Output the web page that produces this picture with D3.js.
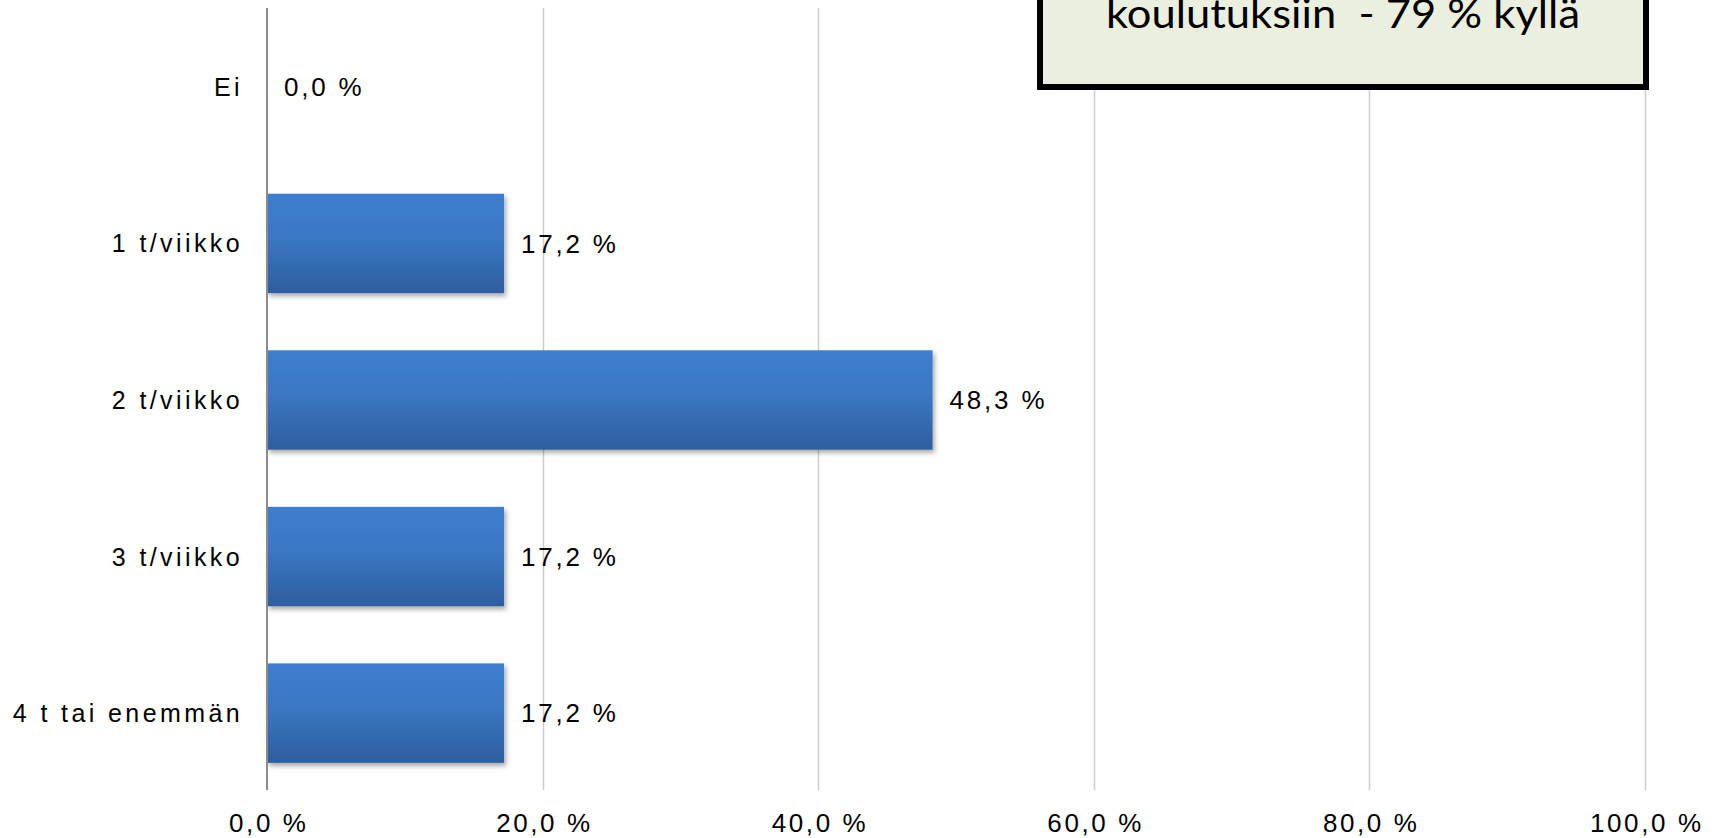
<!DOCTYPE html>
<html>
<head>
<meta charset="utf-8">
<script src="https://cdn.jsdelivr.net/npm/d3@7"></script>
<style>
  html, body { margin: 0; padding: 0; background: #fff; }
  svg { display: block; }
</style>
</head>
<body>
<svg id="chart" width="1721" height="838"></svg>
<script>
const categories = ["Ei", "1 t/viikko", "2 t/viikko", "3 t/viikko", "4 t tai enemmän"];
const values = [0.0, 17.2, 48.3, 17.2, 17.2];
const tickValues = [0, 20, 40, 60, 80, 100];
const titleText = "koulutuksiin  - 79 % kyllä";

const svg = d3.select("#chart");
const m = { left: 267, right: 1645, top: 8, bottom: 790 };

const fi = d3.formatLocale({ decimal: ",", thousands: " ", grouping: [3], currency: ["", " €"] });
const f1 = fi.format(".1f");
const pct = v => f1(v) + " %";

const x = d3.scaleLinear().domain([0, 100]).range([m.left, m.right]);
const y = d3.scaleBand().domain(categories).range([m.top + 1, m.bottom + 1]).paddingInner(0.365).paddingOuter(0.18);

const defs = svg.append("defs");
const grad = defs.append("linearGradient").attr("id", "barGrad").attr("x1", 0).attr("y1", 0).attr("x2", 0).attr("y2", 1);
grad.append("stop").attr("offset", "0%").attr("stop-color", "#3D7ECE");
grad.append("stop").attr("offset", "45%").attr("stop-color", "#3A77C3");
grad.append("stop").attr("offset", "100%").attr("stop-color", "#2D5E9E");
const sh = defs.append("filter").attr("id", "shadow").attr("x", "-5%").attr("y", "-10%").attr("width", "115%").attr("height", "130%");
sh.append("feDropShadow").attr("dx", 2).attr("dy", 3).attr("stdDeviation", 2.5).attr("flood-color", "#000").attr("flood-opacity", 0.35);

// gridlines
svg.append("g").selectAll("line").data(tickValues.filter(d => d > 0)).join("line")
  .attr("x1", d => Math.round(x(d)) + 0.5).attr("x2", d => Math.round(x(d)) + 0.5)
  .attr("y1", m.top).attr("y2", m.bottom)
  .attr("stroke", "#CDCDCD").attr("stroke-width", 1.5);

// bars
svg.append("g").selectAll("rect").data(categories.map((c, i) => ({ c, v: values[i] })).filter(d => d.v > 0)).join("rect")
  .attr("x", x(0))
  .attr("y", d => y(d.c))
  .attr("width", d => x(d.v) - x(0))
  .attr("height", y.bandwidth())
  .attr("fill", "url(#barGrad)")
  .attr("filter", "url(#shadow)");

// value axis line (0)
svg.append("line")
  .attr("x1", x(0)).attr("x2", x(0)).attr("y1", m.top).attr("y2", m.bottom)
  .attr("stroke", "#8C8C8C").attr("stroke-width", 2);

// value labels
svg.append("g").selectAll("text").data(categories.map((c, i) => ({ c, v: values[i] }))).join("text")
  .attr("x", d => x(d.v) + 17)
  .attr("y", d => y(d.c) + y.bandwidth() / 2)
  .attr("dy", "0.36em")
  .attr("font-family", "'Liberation Sans', Arial, sans-serif")
  .attr("font-size", 26)
  .attr("letter-spacing", 2.8)
  .attr("fill", "#000")
  .text(d => pct(d.v));

// category axis
const yAxis = d3.axisLeft(y).tickSize(0).tickPadding(0);
const gy = svg.append("g").attr("transform", `translate(${m.left - 24},0)`).call(yAxis);
gy.select(".domain").remove();
gy.selectAll("text")
  .attr("font-family", "'Liberation Sans', Arial, sans-serif")
  .attr("font-size", 25)
  .attr("letter-spacing", 3.4)
  .attr("fill", "#000")
  .attr("dy", "0.36em");

// x axis
const xAxis = d3.axisBottom(x).tickValues(tickValues).tickSize(0).tickPadding(0).tickFormat(pct);
const gx = svg.append("g").attr("transform", `translate(0,${823})`).call(xAxis);
gx.select(".domain").remove();
gx.selectAll("text")
  .attr("font-family", "'Liberation Sans', Arial, sans-serif")
  .attr("font-size", 26)
  .attr("letter-spacing", 2.6)
  .attr("fill", "#000")
  .attr("dy", "0.36em")
  .attr("dx", 1.3);

// title box (its upper part lies above the picture)
const box = { x0: 1040, x1: 1646, y0: -120, y1: 87 };
svg.append("rect")
  .attr("x", box.x0 + 3).attr("y", box.y0 + 3)
  .attr("width", box.x1 - box.x0).attr("height", box.y1 - box.y0)
  .attr("fill", "#7f7f7f").attr("opacity", 0.5);
svg.append("rect")
  .attr("x", box.x0).attr("y", box.y0)
  .attr("width", box.x1 - box.x0).attr("height", box.y1 - box.y0)
  .attr("fill", "#EBEFDF").attr("stroke", "#000").attr("stroke-width", 6);
svg.append("text")
  .attr("x", (box.x0 + box.x1) / 2).attr("y", 27.5)
  .attr("text-anchor", "middle")
  .attr("font-family", "Lato, 'Open Sans', sans-serif")
  .attr("font-weight", 400)
  .attr("font-size", 40)
  .attr("textLength", 474)
  .attr("lengthAdjust", "spacingAndGlyphs")
  .style("white-space", "pre")
  .attr("fill", "#000")
  .text(titleText);
</script>
</body>
</html>
